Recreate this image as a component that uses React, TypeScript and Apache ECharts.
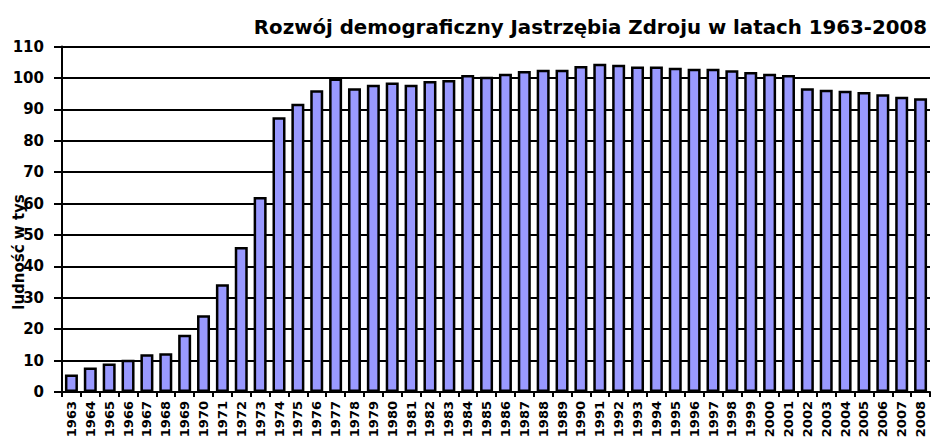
import React, { useEffect, useRef } from "react";
import * as echarts from "echarts";

const years: string[] = [
  "1963", "1964", "1965", "1966", "1967", "1968", "1969", "1970", "1971", "1972",
  "1973", "1974", "1975", "1976", "1977", "1978", "1979", "1980", "1981", "1982",
  "1983", "1984", "1985", "1986", "1987", "1988", "1989", "1990", "1991", "1992",
  "1993", "1994", "1995", "1996", "1997", "1998", "1999", "2000", "2001", "2002",
  "2003", "2004", "2005", "2006", "2007", "2008",
];

const population: number[] = [
  5.6, 7.8, 9.1, 10.3, 12.0, 12.3, 18.2, 24.4, 34.3, 46.2,
  62.1, 87.5, 91.8, 96.1, 99.8, 96.7, 97.8, 98.5, 97.8, 99.0,
  99.3, 100.9, 100.4, 101.3, 102.2, 102.6, 102.6, 103.8, 104.5, 104.2,
  103.6, 103.6, 103.2, 102.9, 102.9, 102.4, 101.9, 101.3, 100.9, 96.7,
  96.2, 95.9, 95.5, 94.8, 94.0, 93.5,
];

const titleText = "Rozwój demograficzny Jastrzębia Zdroju w latach 1963-2008";
const axisNameText = "ludność w tys";

export default function App() {
  const ref = useRef<HTMLDivElement>(null);

  useEffect(() => {
    if (!ref.current) return;
    const chart = echarts.init(ref.current, undefined, { renderer: "svg" });
    const font = "DejaVu Sans";
    chart.setOption({
      animation: false,
      backgroundColor: "#ffffff",
      grid: {
        left: 62,
        right: 4,
        top: 46.5,
        bottom: 48,
        containLabel: false,
        outerBoundsMode: "none",
      },
      title: {
        text: titleText,
        right: 2,
        top: 12,
        textStyle: { fontFamily: font, fontWeight: "bold", fontSize: 19.8, color: "#000" },
      },
      graphic: [
        {
          type: "text",
          x: 19,
          y: 252,
          rotation: Math.PI / 2,
          style: {
            text: axisNameText,
            fontFamily: font,
            fontWeight: "bold",
            fontSize: 15,
            fill: "#000",
            textAlign: "center",
            textVerticalAlign: "middle",
          },
          z: 100,
        },
      ],
      xAxis: {
        type: "category",
        data: years,
        boundaryGap: true,
        axisLine: { show: true, lineStyle: { color: "#000", width: 2 } },
        axisTick: { show: true, length: 5, lineStyle: { color: "#000", width: 2 }, interval: 0 },
        axisLabel: {
          interval: 0,
          rotate: 90,
          margin: 9,
          fontFamily: font,
          fontWeight: "bold",
          fontSize: 13,
          color: "#000",
        },
        splitLine: { show: false },
      },
      yAxis: {
        type: "value",
        min: 0,
        max: 110,
        interval: 10,
        axisLine: { show: true, lineStyle: { color: "#000", width: 2 } },
        axisTick: { show: true, length: 8, lineStyle: { color: "#000", width: 2 } },
        axisLabel: {
          margin: 18,
          fontFamily: font,
          fontWeight: "bold",
          fontSize: 15,
          color: "#000",
        },
        splitLine: { show: true, lineStyle: { color: "#000", width: 2 } },
      },
      series: [
        {
          type: "bar",
          data: population,
          barWidth: 13,
          itemStyle: { color: "#9999ff", borderColor: "#000", borderWidth: 2.5 },
        },
      ],
    });
    return () => chart.dispose();
  }, []);

  return (
    <div
      ref={ref}
      style={{ position: "fixed", left: 0, top: 0, width: 934, height: 440 }}
    />
  );
}
